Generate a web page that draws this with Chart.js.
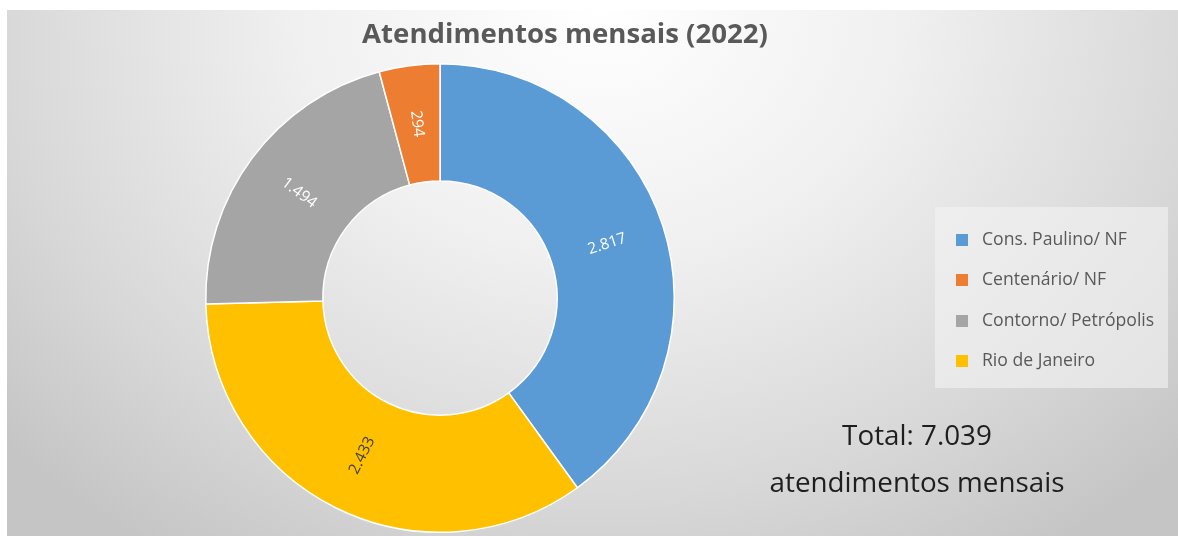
<!DOCTYPE html>
<html>
<head>
<meta charset="utf-8">
<script src="https://cdn.jsdelivr.net/npm/chart.js"></script>
<style>
html,body{margin:0;padding:0;background:#ffffff;width:1178px;height:536px;overflow:hidden;}
#frame{position:absolute;left:7px;top:10px;width:1171px;height:526px;
  background:radial-gradient(ellipse 800px 650px at 593px 0px,#ffffff 0%,#f0f0f0 38%,#d8d8d8 75%,#c5c5c5 100%);}
canvas{display:block;}
</style>
</head>
<body>
<div id="frame"><canvas id="c" width="1171" height="526"></canvas></div>
<script>
// ---- data (drawing order, clockwise from 12 o'clock) ----
const categories = ['Cons. Paulino/ NF', 'Rio de Janeiro', 'Contorno/ Petrópolis', 'Centenário/ NF'];
const values = [2817, 2433, 1494, 294];
const legendOrder = ['Cons. Paulino/ NF', 'Centenário/ NF', 'Contorno/ Petrópolis', 'Rio de Janeiro'];
const sliceColors = ['#5B9BD5', '#FFC000', '#A5A5A5', '#ED7D31'];
const labelColors = ['#ffffff', '#404040', '#ffffff', '#ffffff'];
const titleText = 'Atendimentos mensais (2022)';
const totalLines = ['Total: 7.039', 'atendimentos mensais'];

const FONT = '"Open Sans", sans-serif';
const OX = 7, OY = 10; // canvas offset in page

const mctx = document.createElement('canvas').getContext('2d');
function fitSize(text, weight, target) {
  mctx.font = weight + ' 100px ' + FONT;
  return 100 * target / mctx.measureText(text).width;
}
function fmt(v) { return String(v).replace(/\B(?=(\d{3})+(?!\d))/g, '.'); }

const titleSize = fitSize(titleText, 'bold', 406);
const totalSize = fitSize(totalLines[1], 'normal', 295);
const legendSize = fitSize('Cons. Paulino/ NF', 'normal', 145);
const labelSize = 15.5;

// legend geometry
const LG_SPACING = 40.3;
const LG_PAD = LG_SPACING - legendSize;
const LG_SQ = 12;
const LG_BW = 40 - legendSize; // so text starts 20px after square centre
const LG_X = 962 - LG_BW / 2 - OX;

function swatch(color) {
  const c = document.createElement('canvas');
  c.width = LG_SQ; c.height = LG_SQ;
  const g = c.getContext('2d');
  g.fillStyle = color; g.fillRect(0, 0, LG_SQ, LG_SQ);
  return c;
}

const layoutPlugin = {
  id: 'layoutFix',
  afterLayout(chart) {
    const lg = chart.legend;
    if (!lg) return;
    lg.left = LG_X - LG_PAD;
    lg.width = 260; lg.right = lg.left + 260;
    lg.top = 240 - LG_PAD - legendSize / 2 - OY;
    lg.height = 200; lg.bottom = lg.top + 200;
  }
};

const bgPlugin = {
  id: 'legendBox',
  beforeDraw(chart) {
    const ctx = chart.ctx;
    ctx.save();
    ctx.fillStyle = 'rgba(244,244,244,0.6)';
    ctx.fillRect(935 - OX, 207 - OY, 233, 181);
    ctx.restore();
  }
};

const sliceLabels = {
  id: 'sliceLabels',
  afterDatasetsDraw(chart) {
    const ctx = chart.ctx;
    const meta = chart.getDatasetMeta(0);
    meta.data.forEach((arc, i) => {
      const p = arc.getProps(['x', 'y', 'startAngle', 'endAngle', 'innerRadius', 'outerRadius'], true);
      const mid = (p.startAngle + p.endAngle) / 2;
      const r = (p.innerRadius + p.outerRadius) / 2;
      let rot = mid;
      if (Math.cos(mid) < 0) rot += Math.PI;
      ctx.save();
      ctx.translate(p.x + Math.cos(mid) * r, p.y + Math.sin(mid) * r);
      ctx.rotate(rot);
      ctx.font = labelSize + 'px ' + FONT;
      ctx.fillStyle = labelColors[i];
      ctx.textAlign = 'center';
      ctx.textBaseline = 'middle';
      ctx.fillText(fmt(chart.data.datasets[0].data[i]), 0, 0);
      ctx.restore();
    });
  }
};

const texts = {
  id: 'texts',
  afterDraw(chart) {
    const ctx = chart.ctx;
    ctx.save();
    ctx.textAlign = 'center';
    ctx.textBaseline = 'alphabetic';
    ctx.fillStyle = '#595959';
    ctx.font = 'bold ' + titleSize + 'px ' + FONT;
    ctx.fillText(titleText, 565 - OX, 43 - OY);
    ctx.fillStyle = '#1e1e1e';
    ctx.font = totalSize + 'px ' + FONT;
    ctx.fillText(totalLines[0], 917 - OX, 445 - OY);
    ctx.fillText(totalLines[1], 917 - OX, 492 - OY);
    ctx.restore();
  }
};

const chart = new Chart(document.getElementById('c'), {
  type: 'doughnut',
  data: {
    labels: categories,
    datasets: [{
      data: values,
      backgroundColor: sliceColors,
      borderColor: '#ffffff',
      borderWidth: 1.5,
      hoverOffset: 0
    }]
  },
  options: {
    responsive: false,
    animation: false,
    events: [],
    cutout: '50%',
    layout: { padding: { left: 198, top: 53, bottom: 3, right: 502 } },
    plugins: {
      tooltip: { enabled: false },
      title: { display: false },
      legend: {
        display: true,
        position: 'right',
        align: 'start',
        maxWidth: 1,
        labels: {
          color: '#595959',
          font: { family: FONT, size: legendSize },
          padding: LG_PAD,
          usePointStyle: true,
          pointStyleWidth: LG_BW,
          boxHeight: legendSize,
          sort: (a, b) => legendOrder.indexOf(a.text) - legendOrder.indexOf(b.text),
          generateLabels(ch) {
            const items = Chart.overrides.doughnut.plugins.legend.labels.generateLabels(ch);
            items.forEach(it => { it.pointStyle = swatch(it.fillStyle); it.lineWidth = 0; it.strokeStyle = 'rgba(0,0,0,0)'; });
            return items;
          }
        }
      }
    }
  },
  plugins: [bgPlugin, layoutPlugin, sliceLabels, texts]
});
</script>
</body>
</html>
